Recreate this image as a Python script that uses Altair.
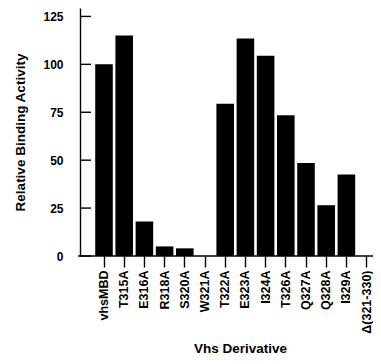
import altair as alt
import pandas as pd

categories = ["vhsMBD", "T315A", "E316A", "R318A", "S320A", "W321A", "T322A",
              "E323A", "I324A", "T326A", "Q327A", "Q328A", "I329A", "Δ(321-330)"]
values = [100, 115, 18, 5, 4, 0, 79.5, 113.5, 104.5, 73.5, 48.5, 26.5, 42.5, 0]
y_ticks = [0, 25, 50, 75, 100, 125]

FONT = "Liberation Sans"
YTITLE = "Relative Binding Activity"

bars_df = pd.DataFrame({"cat": categories, "val": values})
ticks_df = pd.DataFrame({"tick": y_ticks})
base_df = pd.DataFrame({"b": [0]})

W = 293
yscale = alt.Scale(domain=[0, 129.4], nice=False, zero=True)
xscale = alt.Scale(domain=categories, range=[13.9, 296.7],
                   paddingInner=0.13, paddingOuter=0.065)

bars = alt.Chart(bars_df).mark_bar(color="black").encode(
    x=alt.X("cat:N", sort=categories, scale=xscale,
            axis=alt.Axis(labelAngle=-90, domain=False, tickSize=11,
                          tickColor="black", tickWidth=1.4, labelPadding=3,
                          labelFont=FONT, labelFontSize=12.5, labelFontWeight="bold",
                          labelColor="black", labelAlign="right", labelBaseline="middle",
                          title="Vhs Derivative", titleFont=FONT, titleFontSize=13.5,
                          titleFontWeight="bold", titleColor="black",
                          titleX=160, titleY=96, titleBaseline="alphabetic")),
    y=alt.Y("val:Q", scale=yscale,
            axis=alt.Axis(values=y_ticks, ticks=False, grid=False,
                          domainColor="black", domainWidth=1.4, labelPadding=17,
                          labelFont=FONT, labelFontSize=12, labelFontWeight="bold",
                          labelColor="black",
                          title=YTITLE, titleFont=FONT, titleFontSize=13.5,
                          titleFontWeight="bold", titleColor="black", titlePadding=15)),
)

yt = alt.Chart(ticks_df).mark_rule(color="black", strokeWidth=1.4).encode(
    y=alt.Y("tick:Q", scale=yscale, title=YTITLE),
    x=alt.value(0),
    x2=alt.value(11),
)

baseline = alt.Chart(base_df).mark_rule(color="black", strokeWidth=1.4).encode(
    y=alt.Y("b:Q", scale=yscale, title=YTITLE),
    x=alt.value(-2),
    x2=alt.value(W),
)

chart = alt.layer(bars, yt, baseline).properties(
    width=W, height=248,
    autosize=alt.AutoSizeParams(type="none"),
    padding={"left": 72, "top": 0, "right": 0, "bottom": 100},
).configure_view(stroke=None)

chart.save("out.html", embed_options={"renderer": "svg", "actions": False})
